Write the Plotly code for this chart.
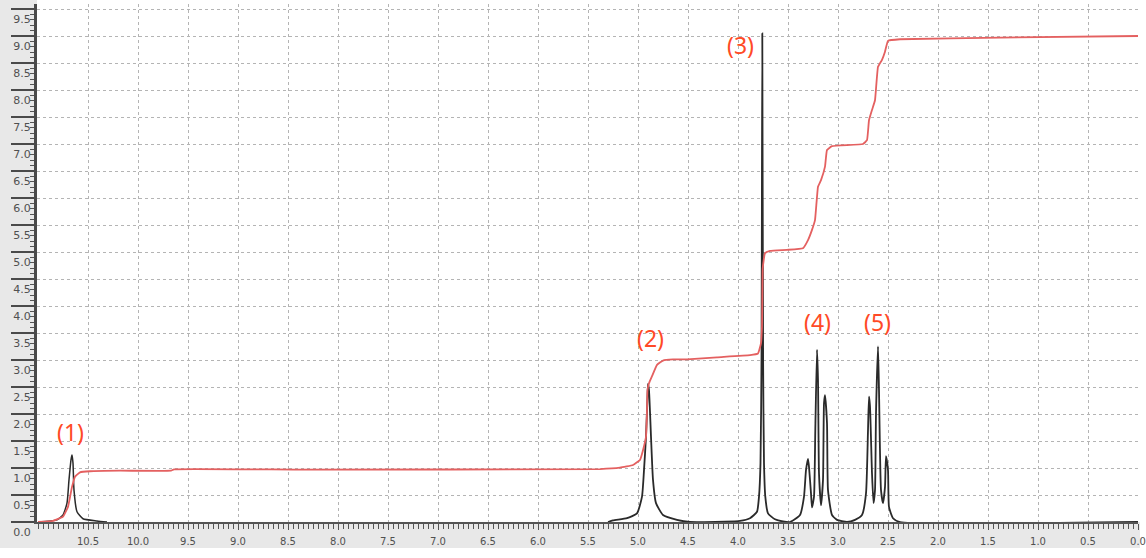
import plotly.graph_objects as go

# ---- integration curve (red) ----
int_ppm = [11.0, 10.85, 10.75, 10.70, 10.66, 10.63, 10.58, 10.48, 10.18, 9.67, 9.64, 8.38,
           5.38, 5.18, 5.05, 4.98, 4.95, 4.92, 4.91, 4.905, 4.89, 4.86, 4.81, 4.75, 4.65,
           4.51, 4.21, 3.88, 3.80, 3.77, 3.76, 3.757, 3.753, 3.73, 3.68, 3.51, 3.35, 3.30,
           3.26, 3.23, 3.20, 3.17, 3.13, 3.11, 3.06, 2.75, 2.71, 2.69, 2.66, 2.63, 2.60,
           2.56, 2.53, 2.50, 2.38, 1.38, 0.0]
int_val = [0.0, 0.02, 0.10, 0.28, 0.65, 0.84, 0.92, 0.94, 0.95, 0.95, 0.975, 0.97,
           0.98, 1.005, 1.055, 1.15, 1.33, 1.58, 2.07, 2.44, 2.57, 2.70, 2.91, 2.99, 3.01,
           3.01, 3.05, 3.09, 3.12, 3.31, 3.62, 4.11, 4.70, 4.98, 5.02, 5.04, 5.07, 5.22,
           5.41, 5.59, 6.21, 6.33, 6.58, 6.89, 6.96, 7.0, 7.07, 7.44, 7.63, 7.81, 8.43,
           8.56, 8.71, 8.91, 8.94, 8.97, 9.0]

# ---- spectrum (black), segment 1: peak (1) ----
seg1_ppm = [11.0, 10.81, 10.75, 10.71, 10.69, 10.67, 10.66, 10.65, 10.64, 10.61, 10.55, 10.41, 10.31]
seg1_int = [0.0, 0.04, 0.13, 0.35, 0.78, 1.15, 1.24, 1.09, 0.59, 0.19, 0.06, 0.02, 0.0]

# ---- spectrum segment 2: peaks (2)-(5) ----
seg2_ppm = [5.30, 5.25, 5.11, 5.01, 4.96, 4.94, 4.92, 4.905, 4.90, 4.89, 4.87, 4.85, 4.82,
            4.75, 4.61, 4.48, 3.98, 3.88, 3.81, 3.79, 3.775, 3.765, 3.757, 3.749, 3.74,
            3.727, 3.70, 3.63, 3.55, 3.48, 3.38, 3.34, 3.32, 3.30, 3.29, 3.27, 3.26, 3.24,
            3.227, 3.21, 3.20, 3.19, 3.17, 3.15, 3.14, 3.13, 3.11, 3.10, 3.06, 3.01, 2.91,
            2.83, 2.76, 2.72, 2.70, 2.69, 2.68, 2.66, 2.645, 2.63, 2.62, 2.60, 2.59, 2.57,
            2.55, 2.53, 2.52, 2.50, 2.49, 2.45, 2.38, 0.0]
seg2_int = [0.0, 0.03, 0.07, 0.16, 0.47, 0.96, 1.58, 2.32, 2.56, 2.44, 1.58, 0.78, 0.35,
            0.13, 0.04, 0.0, 0.02, 0.07, 0.19, 0.47, 1.09, 3.0, 9.05, 3.0, 1.09,
            0.47, 0.16, 0.05, 0.01, 0.0, 0.13, 0.47, 0.96, 1.17, 1.02, 0.53, 0.27, 0.47,
            1.70, 3.19, 2.63, 0.90, 0.31, 0.78, 2.20, 2.35, 1.83, 0.59, 0.13, 0.04, 0.0,
            0.04, 0.13, 0.53, 1.70, 2.32, 2.14, 0.90, 0.35, 0.59, 2.01, 3.25, 2.44, 0.59,
            0.35, 0.65, 1.22, 0.96, 0.28, 0.07, 0.0, 0.0]

# ---- peak labels ----
label_text = ["(1)", "(2)", "(3)", "(4)", "(5)"]
label_ppm = [10.68, 4.88, 3.98, 3.21, 2.61]
label_val = [1.67, 3.41, 8.83, 3.70, 3.70]

# ---- axis ticks ----
x_ticks = [10.5, 10.0, 9.5, 9.0, 8.5, 8.0, 7.5, 7.0, 6.5, 6.0, 5.5, 5.0, 4.5, 4.0, 3.5,
           3.0, 2.5, 2.0, 1.5, 1.0, 0.5, 0.0]
y_ticks = [0.0, 0.5, 1.0, 1.5, 2.0, 2.5, 3.0, 3.5, 4.0, 4.5, 5.0, 5.5, 6.0, 6.5, 7.0,
           7.5, 8.0, 8.5, 9.0, 9.5]

W, H = 1146, 558
L, R, T, B = 37, 8, 4, 36
pw = W - L - R
ph = H - T - B

fig = go.Figure()
fig.add_trace(go.Scatter(x=seg1_ppm, y=seg1_int, mode="lines",
                         line=dict(color="#2a2a2a", width=1.5, shape="spline", smoothing=0.5),
                         showlegend=False, hoverinfo="skip"))
fig.add_trace(go.Scatter(x=seg2_ppm, y=seg2_int, mode="lines",
                         line=dict(color="#2a2a2a", width=1.8, shape="spline", smoothing=0.5),
                         showlegend=False, hoverinfo="skip"))
fig.add_trace(go.Scatter(x=int_ppm, y=int_val, mode="lines",
                         line=dict(color="#e46060", width=1.8, shape="spline", smoothing=0.3),
                         showlegend=False, hoverinfo="skip"))

for t, xv, yv in zip(label_text, label_ppm, label_val):
    fig.add_annotation(x=xv, y=yv, text=t, showarrow=False,
                       font=dict(family="Noto Sans", size=23, color="#ff4a26"))

band = "#e8e8e8"
fig.add_shape(type="rect", xref="paper", yref="paper", layer="below",
              x0=-L / pw, x1=0, y0=-(548 - (H - B)) / ph, y1=1 + T / ph,
              fillcolor=band, line_width=0)
fig.add_shape(type="rect", xref="paper", yref="paper", layer="below",
              x0=-L / pw, x1=1 + 2 / pw, y0=-(548 - (H - B)) / ph, y1=0,
              fillcolor=band, line_width=0)

xtickfont = dict(family="DejaVu Sans", size=10, color="#505050")
ytickfont = dict(family="DejaVu Sans", size=11, color="#505050")

fig.update_layout(
    width=W, height=H,
    margin=dict(l=L, r=R, t=T, b=B, autoexpand=False),
    paper_bgcolor="white", plot_bgcolor="white",
    xaxis=dict(range=[11.01, 0.0], tickvals=x_ticks,
               ticktext=[f"{v:.1f}" for v in x_ticks],
               showgrid=True, gridcolor="#b4b4b4", griddash="3px,3px", gridwidth=1,
               zeroline=False, showline=True, linecolor="#555555", linewidth=2,
               ticks="outside", ticklen=6, tickwidth=1, tickcolor="#555555",
               minor=dict(dtick=0.05, tick0=0, ticks="outside", ticklen=5,
                          tickcolor="#555555", tickwidth=1, showgrid=False),
               tickfont=xtickfont, ticklabelstandoff=3, automargin=False),
    yaxis=dict(range=[0, (H - B - T) / 54.0], tickvals=y_ticks,
               ticktext=[f"{v:.1f}" for v in y_ticks],
               showgrid=True, gridcolor="#b4b4b4", griddash="3px,3px", gridwidth=1,
               zeroline=False, showline=True, linecolor="#4a4a4a", linewidth=3,
               ticks="outside", ticklen=23, tickwidth=2, tickcolor="#4a4a4a",
               minor=dict(dtick=0.1, tick0=0, ticks="outside", ticklen=4,
                          tickcolor="#555555", tickwidth=1, showgrid=False),
               tickfont=ytickfont, ticklabelstandoff=-22, ticklabelshift=10,
               automargin=False),
)

fig.write_html("out.html", config={"displayModeBar": False},
               post_script="document.body.style.margin='0';")
